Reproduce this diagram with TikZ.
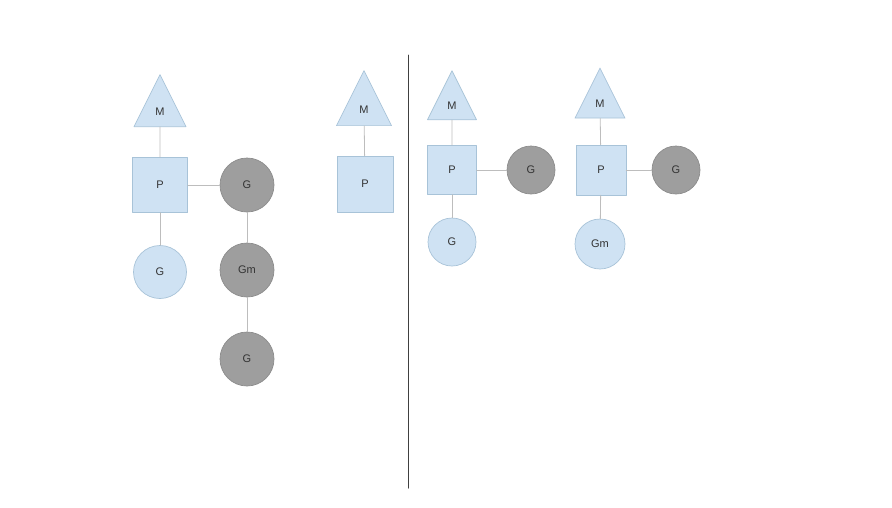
\documentclass[tikz,border=0pt]{standalone}
\usepackage{fontspec}
\setmainfont{Liberation Sans}
\usetikzlibrary{shapes.geometric}
\definecolor{lblue}{HTML}{CFE2F3}
\definecolor{bblue}{HTML}{A8C3D8}
\definecolor{gfill}{HTML}{9E9E9E}
\definecolor{gline}{HTML}{8C8C8C}
\definecolor{cline}{HTML}{BDBDBD}
\definecolor{txt}{HTML}{333333}
\begin{document}
\begin{tikzpicture}[x=1pt,y=-1pt,line cap=round,line join=round,
    font=\fontsize{11}{13}\selectfont,text=txt,
    mnode/.style={isosceles triangle,isosceles triangle stretches,shape border rotate=90,fill=lblue,draw=bblue,line width=0.7pt,inner sep=0pt,minimum width=#1,minimum height=#1},
    pnode/.style={rectangle,fill=lblue,draw=bblue,line width=0.7pt,minimum size=#1},
    gnode/.style={circle,fill=lblue,draw=bblue,line width=0.7pt,minimum size=#1},
    gbusy/.style={circle,fill=gfill,draw=gline,line width=0.7pt,minimum size=#1},
    link/.style={draw=cline,line width=0.8pt}]
        \useasboundingbox (0,0) rectangle (892,507);
        \node[mnode=52pt] (m1) at (160,112) {M};
        \node[pnode=55pt] (p1) at (160,185) {P};
        \node[gnode=53pt] (g1) at (160,272) {G};
        \node[gbusy=54pt] (g2) at (247,185) {G};
        \node[gbusy=54pt] (gm1) at (247,270) {Gm};
        \node[gbusy=54pt] (g3) at (247,359) {G};
        \draw [link] (m1) -- (p1);
        \draw [link] (p1) -- (g1);
        \draw [link] (p1) -- (g2);
        \draw [link] (g2) -- (gm1);
        \draw [link] (gm1) -- (g3);
        \node[mnode=55pt] (m2) at (364,110) {M};
        \node[pnode=56pt] (p2) at (365,184) {P};
        \draw [link] (m2) -- (p2);
        \coordinate (top) at (408,55);
        \coordinate (bot) at (408,488);
        \draw [line width=1pt,black!75] (top) -- (bot);
        \node[mnode=49pt] (m3) at (452,106) {M};
        \node[pnode=49pt] (p3) at (452,170) {P};
        \node[gbusy=48pt] (g4) at (531,170) {G};
        \node[gnode=48pt] (g5) at (452,242) {G};
        \draw [link] (m3) -- (p3);
        \draw [link] (p3) -- (g4);
        \draw [link] (p3) -- (g5);
        \node[mnode=50pt] (m4) at (600,104) {M};
        \node[pnode=50pt] (p4) at (601,170) {P};
        \node[gbusy=48pt] (g6) at (676,170) {G};
        \node[gnode=50pt] (gm2) at (600,244) {Gm};
        \draw [link] (m4) -- (p4);
        \draw [link] (p4) -- (g6);
        \draw [link] (p4) -- (gm2);
\end{tikzpicture}
\end{document}
